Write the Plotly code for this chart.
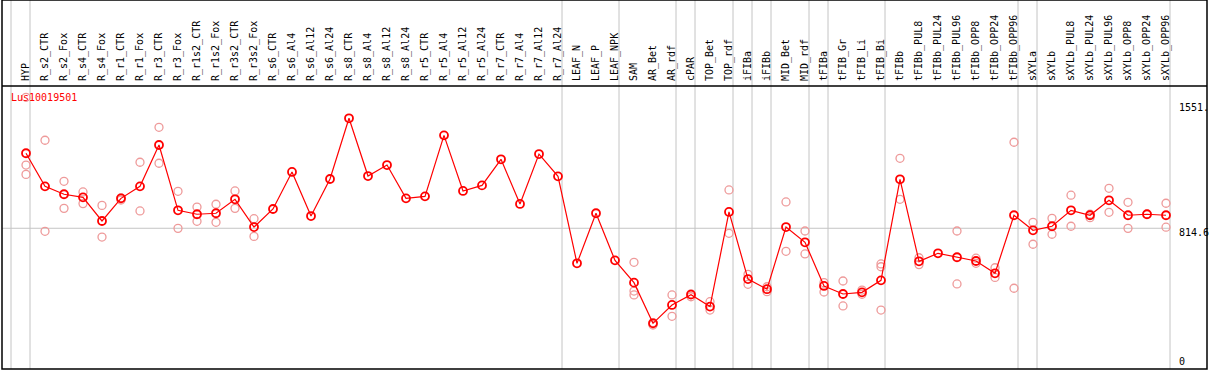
import plotly.graph_objects as go

categories = ["HYP", "R_s2_CTR", "R_s2_Fox", "R_s4_CTR", "R_s4_Fox", "R_r1_CTR", "R_r1_Fox",
              "R_r3_CTR", "R_r3_Fox", "R_r1s2_CTR", "R_r1s2_Fox", "R_r3s2_CTR", "R_r3s2_Fox",
              "R_s6_CTR", "R_s6_Al4", "R_s6_Al12", "R_s6_Al24", "R_s8_CTR", "R_s8_Al4",
              "R_s8_Al12", "R_s8_Al24", "R_r5_CTR", "R_r5_Al4", "R_r5_Al12", "R_r5_Al24",
              "R_r7_CTR", "R_r7_Al4", "R_r7_Al12", "R_r7_Al24", "LEAF_N", "LEAF_P", "LEAF_NPK",
              "SAM", "AR_Bet", "AR_rdf", "cPAR", "TOP_Bet", "TOP_rdf", "iFIBa", "iFIBb",
              "MID_Bet", "MID_rdf", "tFIBa", "tFIB_Gr", "tFIB_Li", "tFIB_Bi", "tFIBb",
              "tFIBb_PUL8", "tFIBb_PUL24", "tFIBb_PUL96", "tFIBb_OPP8", "tFIBb_OPP24",
              "tFIBb_OPP96", "sXYLa", "sXYLb", "sXYLb_PUL8", "sXYLb_PUL24", "sXYLb_PUL96",
              "sXYLb_OPP8", "sXYLb_OPP24", "sXYLb_OPP96"]

mean_values = [1272, 1070, 1022, 1003, 859, 997, 1070, 1322, 924, 900, 906, 991, 822,
               932, 1158, 889, 1115, 1485, 1133, 1200, 997, 1009, 1381, 1042, 1076,
               1235, 963, 1267, 1131, 601, 906, 619,
               483, 235, 347, 410, 337, 914, 505, 443, 822, 729, 463, 414, 424, 497, 1113,
               613, 662, 638, 615, 540, 894, 802, 827, 924, 894, 985, 894, 900, 894]

rep_a = [1613, 1351, 1101, 1036, 954, 987, 1217, 1430, 1040, 944, 961, 1042, 873,
         None, None, None, None, None, None, None, None, None, None, None, None,
         None, None, None, None, None, None, None,
         607, 225, 408, 397, 367, 1048, 534, 458, 975, 798, 483, 493, 438, 597, 1241,
         635, None, 798, 632, 574, 1339, 851, 875, 1016, 879, 1058, 973, 900, 967]

rep_b = [1143, 796, 936, 965, 761, 1000, 920, 1211, 814, 857, 851, 936, 765,
         None, None, None, None, None, None, None, None, None, None, None, None,
         None, None, None, None, None, None, None,
         432, 240, 278, 415, 316, 784, 473, 428, 674, 658, 426, 341, 412, 316, 991,
         593, None, 475, 601, 515, 449, 717, 778, 827, 900, 912, 814, None, 821]

rep_c = [1200, None, None, None, None, None, None, None, None, None, None, None, None,
         None, None, None, None, None, None, None, None, None, None, None, None,
         None, None, None, None, None, None, None,
         408, None, None, None, None, None, None, None, None, None, None, None, None, 580, None,
         None, None, None, None, None, None, None, None, None, None, None, None, None, None]

group_starts = [0, 1, 29, 32, 35, 36, 38, 39, 40, 42, 43, 46, 53, 54, 61]
right_labels = [("1551.", 1551), ("814.6", 814.6), ("0", 0)]
title_text = "Lus10019501"

x = list(range(len(categories)))
FONT = "DejaVu Sans Mono"
PINK = "#ee9a9a"
TOP = 1 + 86 / 283

fig = go.Figure()
for reps in (rep_a, rep_b, rep_c):
    fig.add_trace(go.Scatter(
        x=x, y=reps, mode="markers",
        marker=dict(symbol="circle-open", size=8, color=PINK, line=dict(width=1.3, color=PINK)),
        hoverinfo="skip", showlegend=False, cliponaxis=False))

fig.add_trace(go.Scatter(
    x=x, y=mean_values, mode="lines+markers",
    line=dict(color="#ff0000", width=1.2),
    marker=dict(symbol="circle-open", size=8, color="#ff0000", line=dict(width=1.8, color="#ff0000")),
    showlegend=False))

shapes = []
off = 15 / 19
for g in group_starts:
    shapes.append(dict(type="line", xref="x", yref="paper", x0=g - off, x1=g - off, y0=0, y1=TOP,
                       line=dict(color="#c4c4c4", width=1), layer="below"))
shapes.append(dict(type="line", xref="x", yref="y", x0=-1.3, x1=61 - off, y0=814.6, y1=814.6,
                   line=dict(color="#c4c4c4", width=1), layer="below"))
# frames
shapes.append(dict(type="rect", xref="paper", yref="paper", x0=0, x1=1, y0=0, y1=TOP,
                   line=dict(color="black", width=1.5)))
shapes.append(dict(type="line", xref="paper", yref="paper", x0=0, x1=1, y0=1, y1=1,
                   line=dict(color="black", width=1.5)))

annotations = [dict(text=title_text, xref="paper", yref="paper", x=7 / 1205, y=0.961,
                    xanchor="left", yanchor="middle", showarrow=False,
                    font=dict(family=FONT, size=10, color="#ff0000"))]
for txt, v in right_labels:
    annotations.append(dict(text=txt, xref="paper", yref="y", x=(1177 - 2) / 1205, y=v,
                            xanchor="left", yanchor="middle", showarrow=False,
                            yshift=-4 if txt == "814.6" else 0,
                            font=dict(family=FONT, size=10, color="black")))

fig.update_layout(
    width=1209, height=370,
    margin=dict(l=2, r=2, t=86, b=1, autoexpand=False),
    paper_bgcolor="white", plot_bgcolor="white",
    xaxis=dict(range=[(2 - 26) / 19, (1207 - 26) / 19], tickvals=x, ticktext=categories,
               side="top", tickangle=-90, showgrid=False, zeroline=False, showline=False,
               automargin=False, ticks="", ticklabelstandoff=4,
               tickfont=dict(family=FONT, size=10, color="black")),
    yaxis=dict(range=[-43.3, 1681.8], showgrid=False, zeroline=False, showticklabels=False,
               showline=False, ticks="", automargin=False),
    shapes=shapes, annotations=annotations,
)

fig.write_html("out.html", config={"displayModeBar": False},
               post_script="document.body.style.margin='0';document.body.style.overflow='hidden';")
